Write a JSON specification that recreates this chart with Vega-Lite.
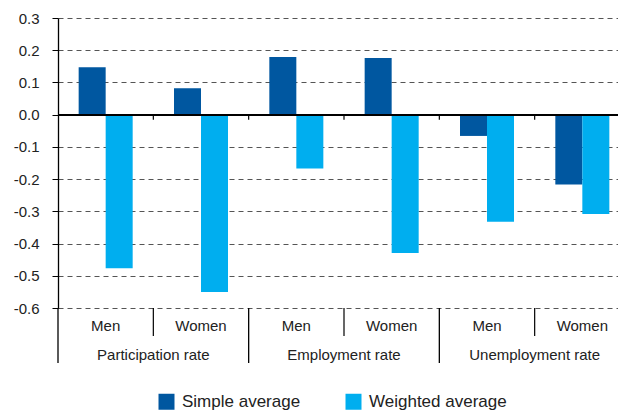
{
  "$schema": "https://vega.github.io/schema/vega-lite/v6.json",
  "autosize": {"type": "none"},
  "width": 560,
  "height": 290,
  "padding": {"left": 58, "top": 18, "right": 0, "bottom": 103},
  "background": "white",
  "config": {
    "view": {"stroke": null},
    "font": "Liberation Sans",
    "text": {"font": "Liberation Sans", "color": "#222222"},
    "axisY": {
      "title": null,
      "tickCount": 10,
      "labelExpr": "replace(format(datum.value, '.1f'), '\u2212', '-')",
      "labelFont": "Liberation Sans",
      "labelFontSize": 15,
      "labelColor": "#222222",
      "labelPadding": 13,
      "labelOverlap": false,
      "tickSize": 6,
      "tickColor": "#000000",
      "domainColor": "#000000",
      "domainWidth": 1.3,
      "grid": true,
      "gridColor": "#555555",
      "gridDash": [5, 4],
      "gridWidth": 1
    }
  },
  "data": {
    "values": [
      {"group": "Participation rate", "sex": "Men", "series": "Simple average", "value": 0.147},
      {"group": "Participation rate", "sex": "Men", "series": "Weighted average", "value": -0.477},
      {"group": "Participation rate", "sex": "Women", "series": "Simple average", "value": 0.082},
      {"group": "Participation rate", "sex": "Women", "series": "Weighted average", "value": -0.55},
      {"group": "Employment rate", "sex": "Men", "series": "Simple average", "value": 0.179},
      {"group": "Employment rate", "sex": "Men", "series": "Weighted average", "value": -0.167},
      {"group": "Employment rate", "sex": "Women", "series": "Simple average", "value": 0.176},
      {"group": "Employment rate", "sex": "Women", "series": "Weighted average", "value": -0.429},
      {"group": "Unemployment rate", "sex": "Men", "series": "Simple average", "value": -0.066},
      {"group": "Unemployment rate", "sex": "Men", "series": "Weighted average", "value": -0.332},
      {"group": "Unemployment rate", "sex": "Women", "series": "Simple average", "value": -0.217},
      {"group": "Unemployment rate", "sex": "Women", "series": "Weighted average", "value": -0.308}
    ]
  },
  "transform": [
    {"calculate": "datum.group + ' | ' + datum.sex", "as": "cat"}
  ],
  "layer": [
    {
      "mark": {"type": "bar", "strokeWidth": 0},
      "encoding": {
        "x": {
          "field": "cat", "type": "nominal",
          "scale": {
            "domain": ["Participation rate | Men", "Participation rate | Women", "Employment rate | Men", "Employment rate | Women", "Unemployment rate | Men", "Unemployment rate | Women"],
            "paddingInner": 0, "paddingOuter": 0, "range": [0, 572]
          },
          "axis": null
        },
        "xOffset": {
          "field": "series", "type": "nominal",
          "scale": {"paddingInner": 0, "paddingOuter": 0.765}
        },
        "y": {
          "field": "value", "type": "quantitative",
          "scale": {"domain": [-0.6, 0.3], "nice": false, "zero": false}
        },
        "color": {
          "field": "series", "type": "nominal",
          "scale": {"domain": ["Simple average", "Weighted average"], "range": ["#0057a0", "#00aeef"]},
          "legend": {
            "title": null,
            "orient": "none",
            "direction": "horizontal",
            "legendX": 100,
            "legendY": 375,
            "symbolType": "square",
            "symbolSize": 256,
            "symbolStrokeWidth": 0,
            "labelFont": "Liberation Sans",
            "labelFontSize": 17,
            "labelColor": "#222222",
            "labelOffset": 7,
            "columnPadding": 44,
            "padding": 0
          }
        }
      }
    },
    {
      "mark": {"type": "rule", "color": "#000000", "strokeWidth": 1.5},
      "encoding": {"y": {"datum": 0}}
    },
    {
      "transform": [
        {"filter": "datum.series == 'Simple average' && datum.cat != 'Participation rate | Men'"}
      ],
      "mark": {"type": "rule", "color": "#000000", "strokeWidth": 1.2},
      "encoding": {
        "x": {"field": "cat", "type": "nominal", "bandPosition": 0},
        "y": {"datum": 0},
        "y2": {"datum": -0.016}
      }
    },
    {
      "transform": [
        {"filter": "datum.series == 'Simple average' && datum.sex == 'Women'"}
      ],
      "mark": {"type": "rule", "color": "#000000", "strokeWidth": 1.2},
      "encoding": {
        "x": {"field": "cat", "type": "nominal", "bandPosition": 0},
        "y": {"datum": -0.6},
        "y2": {"datum": -0.687}
      }
    },
    {
      "transform": [
        {"filter": "datum.series == 'Simple average' && datum.sex == 'Men'"}
      ],
      "mark": {"type": "rule", "color": "#000000", "strokeWidth": 1.3},
      "encoding": {
        "x": {"field": "cat", "type": "nominal", "bandPosition": 0},
        "y": {"datum": -0.6},
        "y2": {"datum": -0.771}
      }
    },
    {
      "transform": [
        {"filter": "datum.series == 'Simple average'"}
      ],
      "mark": {"type": "text", "fontSize": 15, "baseline": "middle", "align": "center", "color": "#222222"},
      "encoding": {
        "x": {"field": "cat", "type": "nominal"},
        "y": {"datum": -0.657},
        "text": {"field": "sex"}
      }
    },
    {
      "transform": [
        {"filter": "datum.series == 'Simple average' && datum.sex == 'Women'"}
      ],
      "mark": {"type": "text", "fontSize": 15, "baseline": "middle", "align": "center", "color": "#222222"},
      "encoding": {
        "x": {"field": "cat", "type": "nominal", "bandPosition": 0},
        "y": {"datum": -0.745},
        "text": {"field": "group"}
      }
    }
  ]
}
